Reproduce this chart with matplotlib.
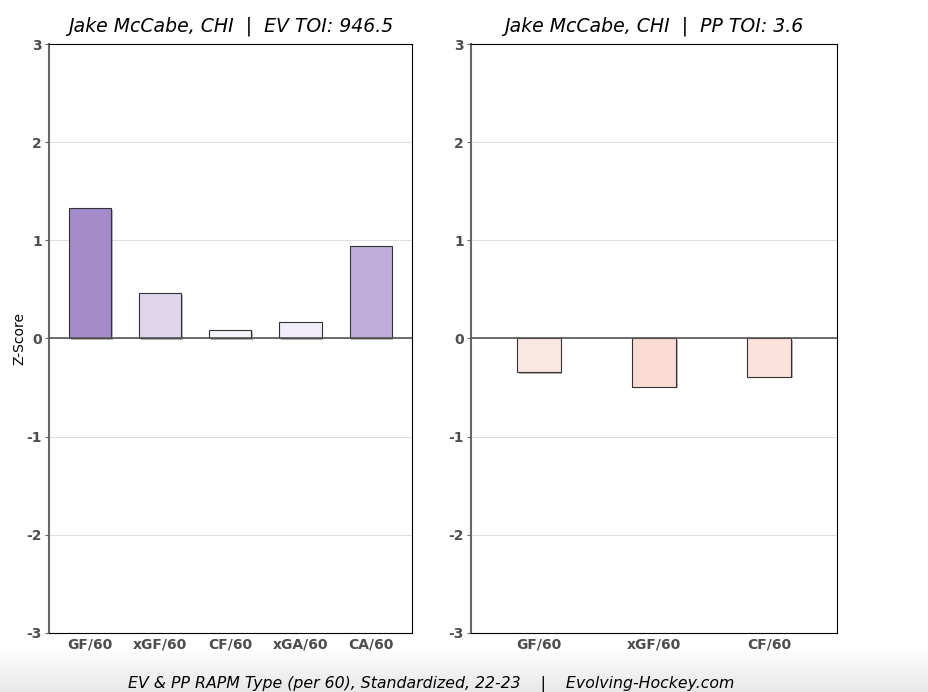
import numpy as np
import matplotlib
matplotlib.use("Agg")
import matplotlib.pyplot as plt
import matplotlib.patheffects as pe
from matplotlib.colors import LinearSegmentedColormap

# data
player = "Jake McCabe, CHI"
ev_toi = 946.5
pp_toi = 3.6
ev_labels = ["GF/60", "xGF/60", "CF/60", "xGA/60", "CA/60"]
ev_values = [1.33, 0.46, 0.09, 0.17, 0.94]
ev_colors = ["#a48ccb", "#dfd5ec", "#f6f3fa", "#f1edf8", "#bfaed9"]
pp_labels = ["GF/60", "xGF/60", "CF/60"]
pp_values = [-0.34, -0.49, -0.39]
pp_colors = ["#fbe7e2", "#fadbd3", "#fce2db"]
yticks = [-3, -2, -1, 0, 1, 2, 3]

fig = plt.figure(figsize=(9.29, 6.92), dpi=100)

# light grey gradient at the bottom
grad = fig.add_axes([0, 0, 1, 0.065], zorder=-10)
g = np.linspace(0, 1, 100).reshape(-1, 1)
cmap = LinearSegmentedColormap.from_list("fade", ["#ffffff", "#e8e8e8"])
grad.imshow(g, aspect="auto", cmap=cmap, origin="upper", extent=[0, 1, 0, 1])
grad.axis("off")

ax1 = fig.add_axes([0.0527, 0.0853, 0.3907, 0.8511])
ax2 = fig.add_axes([0.507, 0.0853, 0.394, 0.8511])

shadow = [pe.SimplePatchShadow(offset=(1.2, -1.2), shadow_rgbFace="#888888", alpha=0.6),
          pe.Normal()]


def draw(ax, labels, values, colors, width, title):
    x = np.arange(len(labels))
    bars = ax.bar(x, values, width=width, color=colors, edgecolor="#333333",
                  linewidth=0.8, zorder=3)
    for b in bars:
        b.set_path_effects(shadow)
    ax.set_xlim(-0.59, len(labels) - 0.41)
    ax.set_ylim(-3, 3)
    ax.set_yticks(yticks)
    ax.set_yticklabels([str(t) for t in yticks])
    ax.set_xticks(x)
    ax.set_xticklabels(labels)
    ax.grid(axis="y", color="#dddddd", linewidth=0.7, zorder=0)
    ax.axhline(0, color="#555555", linewidth=1.2, zorder=4)
    for lab in ax.get_xticklabels() + ax.get_yticklabels():
        lab.set_fontweight("bold")
        lab.set_color("#4d4d4d")
        lab.set_fontsize(10)
    ax.tick_params(axis="x", length=0, pad=3)
    ax.tick_params(axis="y", length=3, color="#666666", pad=2)
    ax.spines["left"].set_color("#666666")
    ax.spines["left"].set_linewidth(1.5)
    ax.set_title(title, fontsize=13.6, style="italic", pad=9)


draw(ax1, ev_labels, ev_values, ev_colors, 0.6, f"{player}  |  EV TOI: {ev_toi}")
draw(ax2, pp_labels, pp_values, pp_colors, 0.38, f"{player}  |  PP TOI: {pp_toi}")
ax1.set_ylabel("Z-Score", fontsize=10, labelpad=0)

fig.text(431 / 929, 1 - 684 / 692,
         "EV & PP RAPM Type (per 60), Standardized, 22-23    |    Evolving-Hockey.com",
         ha="center", va="center", fontsize=11.3, style="italic")

fig.savefig("out.png", dpi=100)
